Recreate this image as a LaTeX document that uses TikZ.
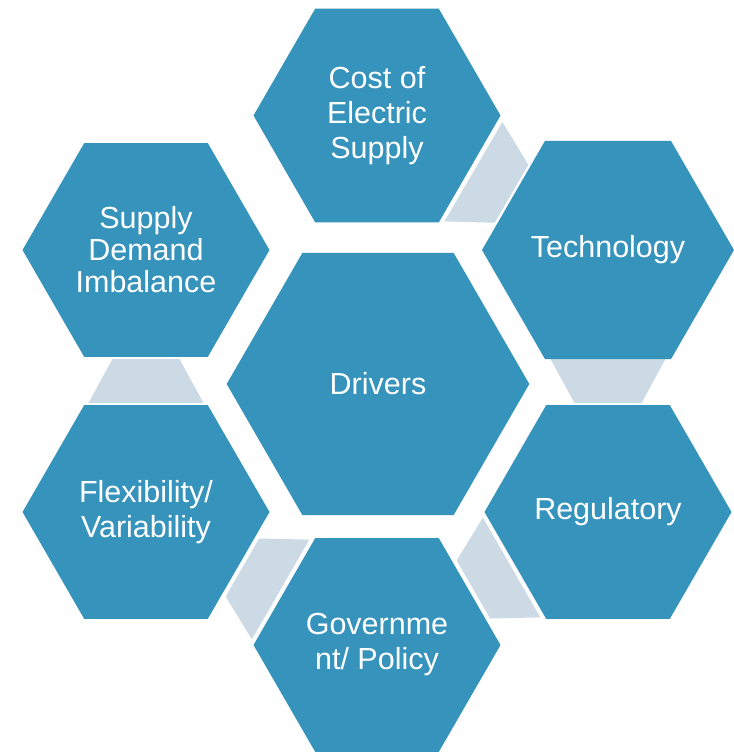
\documentclass[tikz,border=0pt]{standalone}
\usepackage{fontspec}
\setmainfont{Liberation Sans}
\usetikzlibrary{shapes.geometric,calc,backgrounds}
\definecolor{hexblue}{HTML}{3593BC}
\definecolor{linkgrey}{HTML}{CCDAE5}
\tikzset{
  hexnode/.style={regular polygon, regular polygon sides=6, fill=hexblue, text=white,
    inner sep=0pt, outer sep=0pt, minimum size=247pt, align=center,
    font=\fontsize{30.5}{35}\selectfont},
  centerhex/.style={hexnode, minimum size=302.6pt},
  link/.style={fill=linkgrey}
}
\begin{document}
\begin{tikzpicture}[x=1pt,y=-1pt]
\useasboundingbox (0,0) rectangle (734,753);
\node[hexnode] (cost) at (377,115.5) {Cost of\\Electric\\Supply};
\node[hexnode] (tech) at (608,250) {Technology};
\node[hexnode] (reg) at (608,512) {Regulatory};
\node[hexnode] (gov) at (377,645) {Governme\\nt/ Policy};
\node[hexnode] (flex) at (146,512) {Flexibility/\\Variability};
\node[hexnode, font=\fontsize{30.5}{32}\selectfont] (supply) at (146,250) {Supply\\Demand\\Imbalance};
\node[centerhex] (drivers) at (378,384) {Drivers};
\begin{scope}[on background layer]
  \fill[white] (0,0) rectangle (734,753);
  \foreach \a/\b in {cost/tech, tech/reg, reg/gov, gov/flex, flex/supply}{
    \coordinate (m) at ($(\a)!0.5!(\b)$);
    \coordinate (p) at ($(m)!-22pt!(\b)$);
    \coordinate (q) at ($(m)!22pt!(\b)$);
    \fill[link] ($(p)!57.5pt!90:(\b)$) -- ($(q)!33.5pt!90:(\b)$)
      -- ($(q)!33.5pt!-90:(\b)$) -- ($(p)!57.5pt!-90:(\b)$) -- cycle;
  }
\end{scope}
\end{tikzpicture}
\end{document}
